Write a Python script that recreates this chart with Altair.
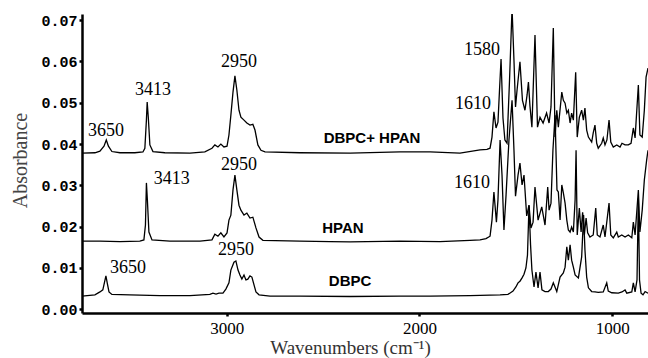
import altair as alt
import pandas as pd

# ---- FTIR spectra (wavenumber in cm^-1, absorbance) ----
wn_blend = [3750, 3683, 3657, 3636, 3624, 3613, 3595, 3553, 3476, 3434, 3424, 3416, 3412, 3406, 3398,
            3382, 3320, 3190, 3113, 3076, 3061, 3045, 3030, 3014, 2998, 2988, 2978, 2967, 2957, 2947,
            2936, 2926, 2910, 2895, 2879, 2864, 2853, 2838, 2822, 2801, 2620, 2360, 2101, 1945, 1790,
            1686, 1650, 1634, 1624, 1614, 1603, 1593, 1585, 1577, 1567, 1557, 1546, 1533, 1520, 1510,
            1502, 1494, 1479, 1466, 1453, 1442, 1435, 1427, 1417, 1401, 1388, 1375, 1359, 1341, 1328,
            1318, 1306, 1297, 1288, 1280, 1262, 1254, 1245, 1236, 1228, 1219, 1211, 1202, 1190, 1182,
            1171, 1159, 1150, 1142, 1133, 1124, 1107, 1099, 1090, 1081, 1073, 1055, 1047, 1038, 1028,
            1017, 1008, 995, 977, 960, 950, 934, 917, 903, 891, 882, 865, 857, 845, 834, 825, 815]
ab_blend = [0.0378, 0.0379, 0.0383, 0.0395, 0.0410, 0.0395, 0.0382, 0.0379, 0.0379, 0.0381, 0.0390, 0.0458, 0.0502, 0.0463, 0.0398,
            0.0382, 0.0379, 0.0378, 0.0381, 0.0390, 0.0398, 0.0393, 0.0400, 0.0393, 0.0395, 0.0422, 0.0470, 0.0526, 0.0565, 0.0531,
            0.0482, 0.0465, 0.0458, 0.0451, 0.0446, 0.0448, 0.0434, 0.0398, 0.0385, 0.0381, 0.0379, 0.0378, 0.0381, 0.0381, 0.0378,
            0.0386, 0.0387, 0.0390, 0.0417, 0.0478, 0.0439, 0.0453, 0.0531, 0.0606, 0.0463, 0.0410, 0.0402, 0.0555, 0.0729, 0.0603,
            0.0490, 0.0531, 0.0599, 0.0506, 0.0482, 0.0519, 0.0550, 0.0492, 0.0441, 0.0664, 0.0441, 0.0465, 0.0451, 0.0475, 0.0451,
            0.0490, 0.0681, 0.0417, 0.0482, 0.0441, 0.0526, 0.0506, 0.0499, 0.0475, 0.0482, 0.0451, 0.0475, 0.0458, 0.0574, 0.0417,
            0.0465, 0.0482, 0.0458, 0.0487, 0.0434, 0.0417, 0.0405, 0.0427, 0.0446, 0.0402, 0.0390, 0.0402, 0.0415, 0.0398, 0.0410,
            0.0458, 0.0405, 0.0393, 0.0398, 0.0393, 0.0402, 0.0398, 0.0398, 0.0402, 0.0439, 0.0415, 0.0543, 0.0422, 0.0417, 0.0482, 0.0562, 0.0584]

wn_hpan = [3750, 3657, 3553, 3450, 3429, 3421, 3416, 3411, 3403, 3387, 3294, 3138, 3076, 3061, 3045,
           3030, 3014, 2998, 2988, 2978, 2967, 2957, 2947, 2936, 2926, 2910, 2895, 2879, 2864, 2848,
           2832, 2812, 2620, 2464, 2360, 2101, 1894, 1738, 1686, 1655, 1634, 1624, 1614, 1601, 1593,
           1582, 1572, 1562, 1551, 1536, 1520, 1510, 1502, 1489, 1479, 1468, 1458, 1444, 1432, 1422,
           1411, 1401, 1385, 1366, 1349, 1335, 1328, 1318, 1308, 1297, 1287, 1280, 1271, 1262, 1254,
           1245, 1236, 1228, 1219, 1211, 1202, 1193, 1188, 1182, 1171, 1162, 1154, 1145, 1136, 1128,
           1116, 1099, 1086, 1078, 1064, 1047, 1038, 1017, 1008, 995, 977, 969, 951, 934, 917,
           899, 891, 882, 865, 857, 845, 834, 822, 815]
ab_hpan = [0.0165, 0.0165, 0.0164, 0.0165, 0.0168, 0.0204, 0.0306, 0.0265, 0.0187, 0.0168, 0.0165, 0.0165, 0.0168, 0.0182, 0.0177,
           0.0185, 0.0175, 0.0185, 0.0216, 0.0228, 0.0289, 0.0325, 0.0289, 0.0252, 0.0240, 0.0228, 0.0233, 0.0221, 0.0223, 0.0197,
           0.0175, 0.0167, 0.0165, 0.0164, 0.0163, 0.0165, 0.0164, 0.0167, 0.0168, 0.0171, 0.0177, 0.0216, 0.0284, 0.0211, 0.0265,
           0.0410, 0.0325, 0.0192, 0.0277, 0.0410, 0.0506, 0.0385, 0.0274, 0.0325, 0.0354, 0.0301, 0.0325, 0.0226, 0.0252, 0.0197,
           0.0211, 0.0296, 0.0216, 0.0248, 0.0204, 0.0296, 0.0240, 0.0257, 0.0385, 0.0470, 0.0289, 0.0284, 0.0216, 0.0301, 0.0282,
           0.0257, 0.0216, 0.0192, 0.0187, 0.0199, 0.0187, 0.0265, 0.0385, 0.0180, 0.0245, 0.0187, 0.0235, 0.0180, 0.0221, 0.0185,
           0.0175, 0.0180, 0.0245, 0.0180, 0.0175, 0.0204, 0.0175, 0.0257, 0.0180, 0.0173, 0.0187, 0.0175, 0.0180, 0.0175, 0.0180,
           0.0173, 0.0211, 0.0180, 0.0289, 0.0187, 0.0240, 0.0313, 0.0361, 0.0385]

wn_dbpc = [3750, 3683, 3657, 3642, 3634, 3626, 3618, 3610, 3595, 3502, 3346, 3190, 3087, 3071, 3055,
           3040, 3019, 3004, 2988, 2978, 2962, 2952, 2941, 2931, 2921, 2910, 2900, 2890, 2879, 2869,
           2858, 2848, 2832, 2775, 2620, 2360, 2101, 1945, 1738, 1582, 1541, 1515, 1500, 1489, 1479,
           1468, 1458, 1448, 1440, 1432, 1424, 1417, 1406, 1396, 1385, 1375, 1365, 1349, 1332, 1318,
           1306, 1288, 1271, 1254, 1245, 1236, 1228, 1219, 1211, 1202, 1193, 1176, 1159, 1149, 1142,
           1133, 1124, 1107, 1090, 1073, 1047, 1029, 1021, 1003, 969, 950, 934, 925, 899, 891,
           882, 872, 865, 859, 851, 841, 830, 815]
ab_dbpc = [0.0032, 0.0035, 0.0042, 0.0047, 0.0064, 0.0081, 0.0061, 0.0042, 0.0036, 0.0035, 0.0033, 0.0033, 0.0036, 0.0039, 0.0037,
           0.0039, 0.0039, 0.0049, 0.0064, 0.0095, 0.0114, 0.0117, 0.0095, 0.0083, 0.0073, 0.0083, 0.0071, 0.0073, 0.0081, 0.0078,
           0.0059, 0.0042, 0.0035, 0.0032, 0.0032, 0.0031, 0.0032, 0.0032, 0.0033, 0.0035, 0.0036, 0.0044, 0.0054, 0.0064, 0.0068,
           0.0076, 0.0085, 0.0100, 0.0131, 0.0252, 0.0156, 0.0095, 0.0054, 0.0090, 0.0052, 0.0090, 0.0047, 0.0043, 0.0043, 0.0049,
           0.0064, 0.0043, 0.0078, 0.0088, 0.0102, 0.0151, 0.0119, 0.0156, 0.0119, 0.0102, 0.0083, 0.0076, 0.0127, 0.0228, 0.0144,
           0.0078, 0.0052, 0.0043, 0.0042, 0.0041, 0.0042, 0.0064, 0.0044, 0.0040, 0.0039, 0.0042, 0.0047, 0.0039, 0.0042, 0.0064,
           0.0042, 0.0071, 0.0269, 0.0071, 0.0039, 0.0035, 0.0043, 0.0039]

# ---- annotations ----
peak_text = ["3650", "3413", "2950", "1580", "1610", "3413", "2950", "1610", "3650", "2950"]
peak_wn = [3626, 3382, 2936, 1676, 1722, 3284, 2936, 1728, 3512, 2952]
peak_ab = [0.0431, 0.0531, 0.0599, 0.0628, 0.0497, 0.0315, 0.0349, 0.0306, 0.0100, 0.0144]

name_text = ["DBPC+ HPAN", "HPAN", "DBPC"]
name_wn = [2246, 2397, 2360]
name_ab = [0.0415, 0.0197, 0.0069]

rows = []
for series, wn, ab in [("DBPC+ HPAN", wn_blend, ab_blend),
                       ("HPAN", wn_hpan, ab_hpan),
                       ("DBPC", wn_dbpc, ab_dbpc)]:
    rows += [{"series": series, "wn": w, "ab": a} for w, a in zip(wn, ab)]
spectra = pd.DataFrame(rows)
peaks = pd.DataFrame({"wn": peak_wn, "ab": peak_ab, "label": peak_text})
names = pd.DataFrame({"wn": name_wn, "ab": name_ab, "label": name_text})

x_scale = alt.Scale(domain=[815, 3750], reverse=True, nice=False, zero=False)
y_scale = alt.Scale(domain=[-0.0009, 0.0715], nice=False, zero=False)

x_axis = alt.Axis(
    values=[3000, 2000, 1000], format="d", grid=False,
    domainColor="black", domainWidth=2.5, tickColor="black", tickWidth=2.5, tickSize=3,
    labelFont="Liberation Serif", labelFontSize=17, labelColor="black", labelPadding=4,
    title="Wavenumbers (cm⁻¹)", titleFont="Liberation Serif", titleFontSize=19,
    titleFontWeight="normal", titleColor="#333333",
    titleX=268, titleY=40, titleBaseline="alphabetic", titleAlign="center",
)
y_axis = alt.Axis(
    values=[0, 0.01, 0.02, 0.03, 0.04, 0.05, 0.06, 0.07], format=".2f", grid=False,
    domainColor="black", domainWidth=2.5, tickColor="black", tickWidth=2.5, tickSize=3,
    labelFont="Liberation Mono", labelFontSize=15, labelFontWeight="bold", labelColor="black",
    labelPadding=2,
    title="Absorbance", titleFont="Liberation Serif", titleFontSize=20,
    titleFontWeight="normal", titleColor="#444444",
    titleX=-62, titleY=146, titleAngle=270, titleAlign="center", titleBaseline="middle",
)

lines = alt.Chart(spectra).mark_line(color="black", strokeWidth=1.3, clip=True).encode(
    x=alt.X("wn:Q", scale=x_scale, axis=x_axis),
    y=alt.Y("ab:Q", scale=y_scale, axis=y_axis),
    detail="series:N",
)

peak_labels = alt.Chart(peaks).mark_text(
    font="Liberation Serif", fontSize=18, color="black", align="center", baseline="middle"
).encode(x=alt.X("wn:Q", scale=x_scale), y=alt.Y("ab:Q", scale=y_scale), text="label:N")

name_labels = alt.Chart(names).mark_text(
    font="Liberation Sans", fontSize=15, fontWeight="bold", color="black",
    align="center", baseline="middle"
).encode(x=alt.X("wn:Q", scale=x_scale), y=alt.Y("ab:Q", scale=y_scale), text="label:N")

chart = (
    alt.layer(lines, peak_labels, name_labels)
    .properties(
        width=566, height=299,
        autosize=alt.AutoSizeParams(type="none"),
        padding={"left": 82, "top": 14, "right": 0, "bottom": 45},
        background="white",
    )
    .configure_view(stroke=None)
)

chart.save("out.html", embed_options={"renderer": "svg", "actions": False})
